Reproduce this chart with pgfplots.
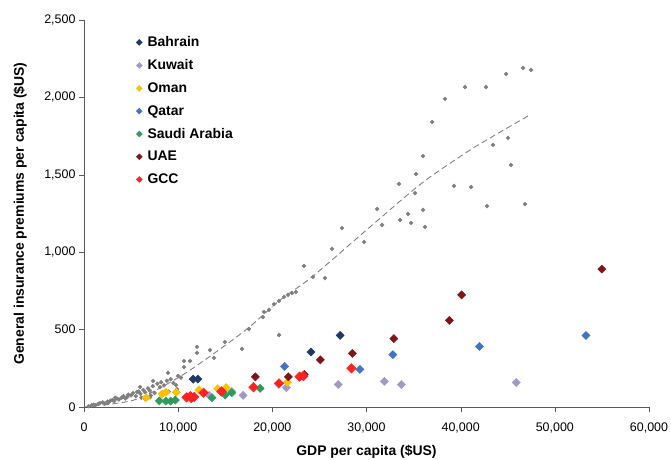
\documentclass[border=0pt]{standalone}
\usepackage{fontspec}
\setmainfont{Liberation Sans}
\usepackage{pgfplots}
\pgfplotsset{compat=1.18}

\definecolor{cBahrain}{HTML}{1F3864}
\definecolor{cKuwait}{HTML}{9E9AC8}
\definecolor{cOman}{HTML}{FFC000}
\definecolor{cQatar}{HTML}{4472C4}
\definecolor{cSaudi}{HTML}{2E9B5E}
\definecolor{cUAE}{HTML}{7F1518}
\definecolor{cGCC}{HTML}{FF2222}
\definecolor{cWorld}{HTML}{808080}

\pgfplotsset{
  cty/.style={only marks, mark=square*, color=#1, mark size=2.9bp,
    mark options={rotate=45, fill=#1, draw=#1},
    legend image code/.code={\draw[##1, mark size=2.1bp] plot coordinates {(0bp,0bp)};
      \path (-2bp,0bp) (6bp,0bp);}},
}

\begin{document}
\begin{tikzpicture}
\path[use as bounding box] (-84bp,-53bp) rectangle (587bp,407bp);
\begin{axis}[
  scale only axis, width=565bp, height=387bp,
  xmin=0, xmax=60000, ymin=0, ymax=2500,
  axis lines=left, axis line style={-, black!65},
  tick align=outside, major tick length=5bp,
  tick style={black!65},
  xtick={0,10000,...,60000}, ytick={0,500,...,2500},
  scaled ticks=false,
  /pgf/number format/assume math mode=true,
  /pgf/number format/1000 sep={,},
  ticklabel style={font=\fontsize{12.5}{14}\selectfont},
  xticklabel style={yshift=-7bp},
  xlabel={GDP per capita (\$US)},
  ylabel={General insurance premiums per capita (\$US)},
  label style={font=\bfseries\fontsize{14}{16}\selectfont},
  xlabel style={at={(axis description cs:0.5,-0.116)}, anchor=center},
  ylabel style={at={(axis description cs:-0.113,0.5)}, anchor=center, rotate=0},
  legend style={at={(rel axis cs:0.087,0.968)}, anchor=north west,
    draw=none, fill=none, row sep=7.5bp,
    font=\bfseries\fontsize{14}{16}\selectfont},
  legend cell align=left,
]
% world sample of countries
\addplot[only marks, mark=square*, mark size=1.4bp, color=cWorld,
  mark options={rotate=45}, forget plot] coordinates {
 (46620,2190) (47470,2177) (44820,2151) (42690,2067) (40460,2067)
 (38340,1990) (36960,1841) (36000,1621) (35260,1505) (33450,1441)
 (31120,1279) (27400,1156) (26340,1021) (23360,911) (24320,840)
 (25590,833) (29740,1066) (31650,1176) (33560,1208) (34410,1247)
 (34730,1189) (35150,1382) (36000,1273) (36210,1163) (39290,1428)
 (41100,1421) (42800,1298) (43430,1693) (45030,1738) (45340,1563)
 (46830,1311)
 (12000,388) (12000,349) (10620,297) (11260,297) (10620,258)
 (8920,220) (7330,168) (9770,142) (9880,116) (13380,368)
 (13810,317) (14970,420) (16780,375) (17520,504) (19120,614)
 (19010,581) (19650,627) (20180,665) (20710,685) (21240,711)
 (21660,724) (22090,736) (22510,743) (20710,465) (8070,129)
 (5950,129) (5630,97)
 (500,5) (800,10) (1000,15) (1200,12) (1500,20) (1700,25) (2000,30)
 (2200,22) (2500,35) (2800,40) (3000,45) (3200,38) (3500,55) (3700,48)
 (4000,60) (4200,70) (4400,55) (4700,80) (5000,75) (5200,90) (5500,70)
 (5800,100) (6000,85) (6300,110) (6500,95) (6800,120) (7000,105)
 (7300,135) (7500,90) (7800,150) (8200,160) (8500,140) (8800,170)
 (9200,180) (9500,155) (10000,200) (10300,190) (3300,60) (4600,65)
 (2600,28) (6100,60) (7100,75) (6500,50) (7000,62) (9000,100)
};
% trend
\addplot[smooth, color=cWorld, line width=0.9bp, dash pattern=on 6bp off 3.5bp, forget plot] coordinates {
 (0,0) (5310,45) (9560,174) (12530,291) (17310,504) (20820,691)
 (24210,840) (30370,1163) (35900,1447) (40670,1647) (43120,1738) (47150,1880)
};
\addplot[cty=cBahrain] coordinates {(11600,180) (12100,180) (24100,355) (27200,462)};
\addlegendentry{Bahrain}
\addplot[cty=cKuwait] coordinates {(13300,75) (15700,100) (16900,75) (21500,125) (27000,145) (31900,165) (33700,145) (45900,158)};
\addlegendentry{Kuwait}
\addplot[cty=cOman] coordinates {(6600,60) (8300,85) (8700,95) (9800,95) (12200,110) (14200,118) (15100,125) (21600,160)};
\addlegendentry{Oman}
\addplot[cty=cQatar] coordinates {(21300,262) (29300,243) (32800,338) (42000,391) (53300,462)};
\addlegendentry{Qatar}
\addplot[cty=cSaudi] coordinates {(8000,40) (8700,38) (9200,38) (9700,45) (13600,60) (15000,78) (15700,92) (18700,120)};
\addlegendentry{Saudi Arabia}
\addplot[cty=cUAE] coordinates {(18200,195) (21700,195) (23400,210) (25100,305) (28500,346) (32900,442) (38800,560) (40100,724) (55000,891)};
\addlegendentry{UAE}
\addplot[cty=cGCC, mark size=3.4bp] coordinates {(10900,62) (11300,70) (11700,65) (11400,58) (12700,92) (14600,100) (18000,128) (20700,152) (22900,196) (23300,200) (28400,250)};
\addlegendentry{GCC}
\end{axis}
\end{tikzpicture}
\end{document}
